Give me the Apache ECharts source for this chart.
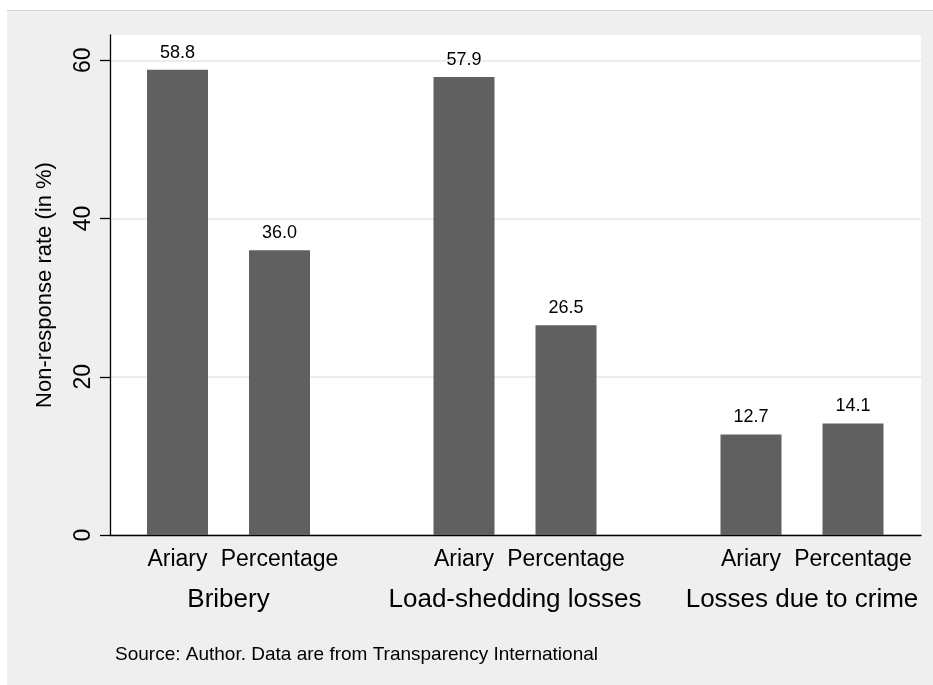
<!DOCTYPE html>
<html>
<head>
<meta charset="utf-8">
<script src="https://cdn.jsdelivr.net/npm/echarts@6/dist/echarts.min.js"></script>
<style>
  html, body { margin:0; padding:0; background:#ffffff; }
  #bg { position:absolute; left:7px; top:10px; width:926px; height:675px; background:#efefef; border-top:1px solid #d4d4d4; box-sizing:border-box; }
  #chart { position:absolute; left:0; top:0; width:933px; height:685px; }
</style>
</head>
<body>
<div id="bg"></div>
<div id="chart"></div>
<script>
// ---- data ----
const groups = ['Bribery', 'Load-shedding losses', 'Losses due to crime'];
const subCategories = ['Ariary', 'Percentage'];
const ariaryValues = [58.8, 57.9, 12.7];
const percentageValues = [36.0, 26.5, 14.1];
const yTicks = [0, 20, 40, 60];
const yAxisTitle = 'Non-response rate (in %)';
const sourceNote = 'Source: Author. Data are from Transparency International';

// ---- layout ----
const FONT = '"Liberation Sans", Arial, sans-serif';
const Y_MAX = 63.2;
const plot = { left: 110, top: 35, right: 12, bottom: 150 };
const groupGridLefts = [126.5, 413, 700];
const groupGridWidth = 204;
const barColor = '#606060';

const grids = [{
  left: plot.left, top: plot.top, right: plot.right, bottom: plot.bottom,
  show: true, backgroundColor: '#ffffff', borderWidth: 0, containLabel: false
}];
const xAxes = [{
  gridIndex: 0, type: 'value', min: 0, max: 1,
  axisLine: { show: true, lineStyle: { color: '#000', width: 1.3 } },
  axisTick: { show: false }, axisLabel: { show: false }, splitLine: { show: false }
}];
const yAxes = [{
  gridIndex: 0, type: 'value', min: 0, max: Y_MAX, interval: 20,
  name: yAxisTitle, nameLocation: 'middle', nameGap: 54,
  nameTextStyle: { fontFamily: FONT, fontSize: 22, color: '#000' },
  axisLine: { show: true, lineStyle: { color: '#000', width: 1.3 } },
  axisTick: { show: true, inside: false, length: 10, customValues: yTicks, lineStyle: { color: '#000', width: 1.3 } },
  axisLabel: { show: true, rotate: 90, margin: 15, customValues: yTicks, fontFamily: FONT, fontSize: 23, color: '#000' },
  splitLine: { show: true, lineStyle: { color: '#e6e6e6', width: 1.5 } }
}];
const series = [];

groups.forEach((g, i) => {
  const gi = i + 1;
  grids.push({ left: groupGridLefts[i], width: groupGridWidth, top: plot.top, bottom: plot.bottom });
  xAxes.push({
    gridIndex: gi, type: 'category', data: subCategories,
    name: g, nameLocation: 'middle', nameGap: 52,
    nameTextStyle: { fontFamily: FONT, fontSize: 26, color: '#000' },
    axisLine: { show: false }, axisTick: { show: false },
    axisLabel: { show: true, interval: 0, margin: 13, fontFamily: FONT, fontSize: 23, color: '#000' }
  });
  yAxes.push({ gridIndex: gi, type: 'value', min: 0, max: Y_MAX, show: false });
  series.push({
    type: 'bar', xAxisIndex: gi, yAxisIndex: gi,
    data: [ariaryValues[i], percentageValues[i]],
    barWidth: 61,
    itemStyle: { color: barColor },
    label: {
      show: true, position: 'top', distance: 8,
      formatter: p => p.value.toFixed(1),
      fontFamily: FONT, fontSize: 18, color: '#000'
    },
    silent: true
  });
});

const chart = echarts.init(document.getElementById('chart'), null, { renderer: 'canvas' });
chart.setOption({
  backgroundColor: 'transparent',
  animation: false,
  title: {
    text: sourceNote, left: 115, top: 645, padding: 0,
    textStyle: { fontFamily: FONT, fontSize: 19, fontWeight: 'normal', color: '#000' }
  },
  grid: grids, xAxis: xAxes, yAxis: yAxes, series: series
});
</script>
</body>
</html>
